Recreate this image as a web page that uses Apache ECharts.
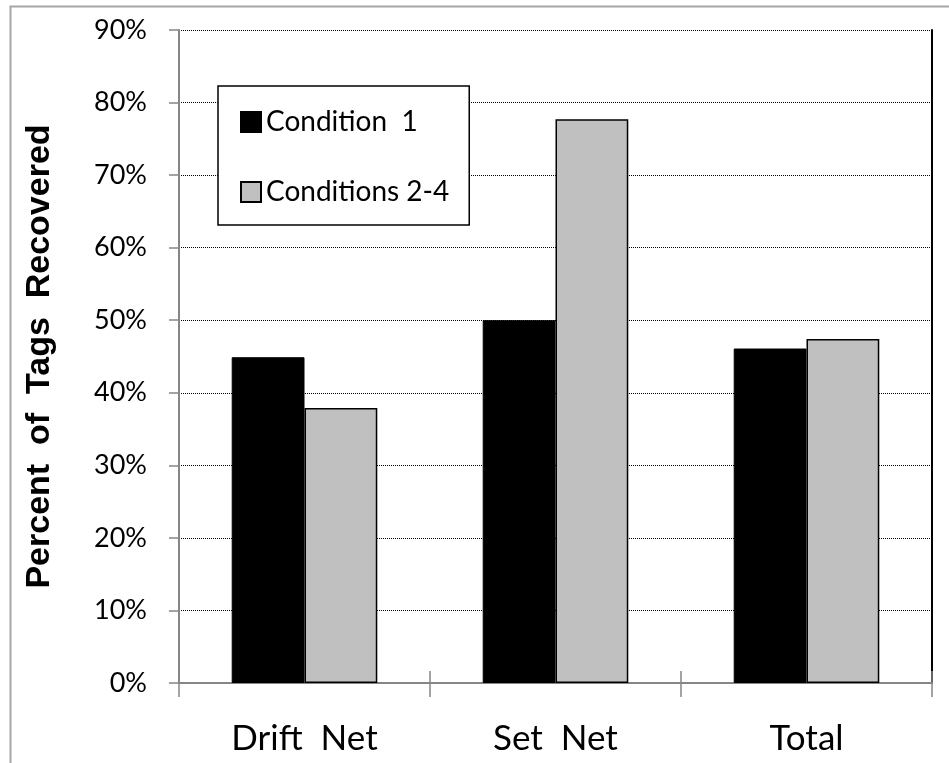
<!DOCTYPE html>
<html>
<head>
<meta charset="utf-8">
<script src="https://cdn.jsdelivr.net/npm/echarts@6/dist/echarts.min.js"></script>
<style>
html,body{margin:0;padding:0;background:#fff;}
#chart{width:949px;height:763px;}
</style>
</head>
<body>
<div id="chart"></div>
<script>
const categories = ['Drift  Net', 'Set  Net', 'Total'];
const condition1 = [44.9, 50.0, 46.1];
const conditions24 = [37.9, 77.7, 47.4];
const seriesNames = ['Condition  1', 'Conditions 2-4'];
const yMin = 0, yMax = 90, yStep = 10;
const yTitle = 'Percent  of  Tags  Recovered';

const FONT = 'Lato';
const chart = echarts.init(document.getElementById('chart'), null, {renderer: 'canvas'});
chart.setOption({
  animation: false,
  backgroundColor: '#fff',
  textStyle: {fontFamily: FONT},
  graphic: [{
    type: 'rect', left: 8, top: 4, shape: {width: 1000, height: 1000},
    style: {fill: 'none', stroke: '#a6a6a6', lineWidth: 2}, silent: true
  }],
  grid: {left: 179, right: 17, top: 30, bottom: 80, containLabel: false},
  legend: {
    orient: 'vertical', left: 218, top: 86,
    padding: [22, 20, 19, 22],
    borderColor: '#000', borderWidth: 1.5, backgroundColor: '#fff',
    itemWidth: 20, itemHeight: 20, itemGap: 42,
    icon: 'rect',
    textStyle: {fontFamily: FONT, fontSize: 28, color: '#000', lineHeight: 28},
    data: seriesNames
  },
  xAxis: [{
    type: 'category', data: categories, position: 'bottom',
    axisLine: {lineStyle: {color: '#868686', width: 2}},
    axisTick: {show: true, interval: 0, length: 14, lineStyle: {color: '#868686', width: 1.5}},
    axisLabel: {fontFamily: FONT, fontSize: 35, color: '#000', margin: 38, interval: 0}
  }, {
    type: 'category', data: categories, position: 'bottom',
    axisLine: {show: false},
    axisTick: {show: true, inside: true, length: 12,
      interval: function (i) { return i === 1 || i === 2; },
      lineStyle: {color: '#868686', width: 1.5}},
    axisLabel: {show: false}
  }],
  yAxis: [{
    type: 'value', min: yMin, max: yMax, interval: yStep, position: 'left',
    name: yTitle, nameLocation: 'middle', nameRotate: 90, nameGap: 122,
    nameTextStyle: {fontFamily: 'Liberation Sans', fontWeight: 'bold', fontSize: 34, color: '#000'},
    axisLine: {show: true, lineStyle: {color: '#868686', width: 2}},
    axisTick: {show: true, length: 10, lineStyle: {color: '#868686', width: 1.5}},
    axisLabel: {formatter: '{value}%', fontFamily: FONT, fontSize: 27, color: '#000', margin: 32},
    splitLine: {show: true, showMinLine: false, lineStyle: {color: '#000', width: 1, type: [1, 1]}}
  }, {
    type: 'value', min: yMin, max: yMax, interval: yStep, position: 'right',
    axisLine: {show: true, lineStyle: {color: '#000', width: 2}},
    axisTick: {show: false}, axisLabel: {show: false}, splitLine: {show: false}
  }],
  series: [{
    name: seriesNames[0], type: 'bar', data: condition1,
    barGap: '0%', barCategoryGap: '42%',
    itemStyle: {color: '#000', borderColor: '#000', borderWidth: 1}
  }, {
    name: seriesNames[1], type: 'bar', data: conditions24,
    barGap: '0%', barCategoryGap: '42%',
    itemStyle: {color: '#c0c0c0', borderColor: '#000', borderWidth: 1.5}
  }]
});
</script>
</body>
</html>
